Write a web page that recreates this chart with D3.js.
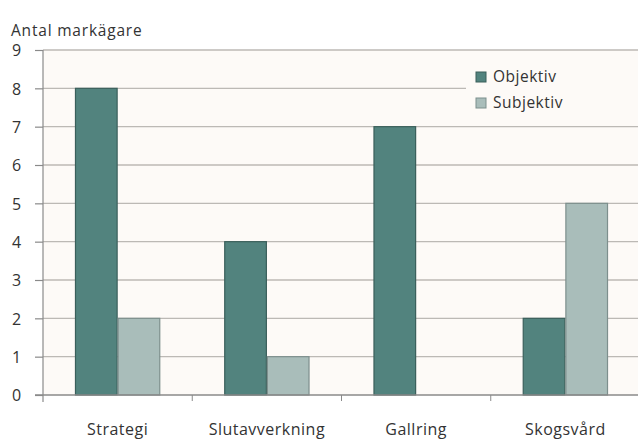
<!DOCTYPE html>
<html><head><meta charset="utf-8">
<script src="https://cdn.jsdelivr.net/npm/d3@7"></script>
<style>body{margin:0;background:#fff}svg{display:block}text{font-family:"Open Sans",sans-serif}</style>
</head><body><svg id="c" width="638" height="440"></svg>
<script>
const categories = ["Strategi","Slutavverkning","Gallring","Skogsvård"];
const seriesNames = ["Objektiv","Subjektiv"];
const objektiv = [8,4,7,2];
const subjektiv = [2,1,0,5];
const yTicks = [0,1,2,3,4,5,6,7,8,9];
const yTitle = "Antal markägare";
const colors = ["#52837e","#a9bdba"];
const strokes = ["#3a5f5b","#7d8f8d"];

const svg = d3.select("#c");
const m = {l:43, r:-2, t:50, b:45};
const W = 638, H = 440;
const x = d3.scaleBand().domain(categories).range([m.l, W - m.r]).paddingInner(0).paddingOuter(0);
const xs = d3.scaleBand().domain(seriesNames).range([0, x.bandwidth()]).paddingInner(0).paddingOuter(0.75);
const y = d3.scaleLinear().domain([0,9]).range([H - m.b, m.t]);

svg.append("rect").attr("x", m.l).attr("y", m.t).attr("width", W - m.l).attr("height", y(0)-m.t).attr("fill","#fdfaf7");

// grid
svg.append("g").selectAll("line").data(yTicks.filter(d=>d>0)).join("line")
  .attr("x1", m.l).attr("x2", W).attr("y1", d=>y(d)).attr("y2", d=>y(d))
  .attr("stroke","#bcb9b5").attr("stroke-width",1.3);

// legend background
svg.append("rect").attr("x",466).attr("y",62).attr("width",172).attr("height",54).attr("fill","#fdfaf7");

const data = [objektiv, subjektiv];
seriesNames.forEach((s,i)=>{
  svg.append("g").selectAll("rect").data(categories).join("rect")
    .attr("x", c=>x(c)+xs(s)+0.5).attr("width", xs.bandwidth()-1)
    .attr("y", (c,j)=>y(data[i][j])).attr("height",(c,j)=>y(0)-y(data[i][j]))
    .attr("fill", colors[i]).attr("stroke", strokes[i]).attr("stroke-width",1.2)
    .attr("display",(c,j)=>data[i][j]>0?null:"none");
});

// y axis
const ya = svg.append("g").attr("transform",`translate(${m.l},0)`)
  .call(d3.axisLeft(y).tickValues(yTicks).tickSize(8).tickPadding(10).tickFormat(d3.format("d")));
ya.select(".domain").attr("stroke","#8a8a8a").attr("stroke-width",1.2).attr("d",`M0,${y(9)}V${y(0)+7}`);
ya.selectAll(".tick line").attr("stroke","#8a8a8a").attr("stroke-width",1.2);
ya.selectAll(".tick text").attr("font-size",16).attr("fill","#333").attr("x",-31).attr("text-anchor","start").attr("dy","0.36em");

// x axis
const xa = svg.append("g").attr("transform",`translate(0,${y(0)})`);
xa.append("line").attr("x1",m.l-8).attr("x2",W).attr("y1",0).attr("y2",0).attr("stroke","#8a8a8a").attr("stroke-width",1.4);
xa.selectAll(".tk").data(categories.slice(1)).join("line").attr("class","tk")
  .attr("x1",c=>x(c)).attr("x2",c=>x(c)).attr("y1",0).attr("y2",6).attr("stroke","#8a8a8a").attr("stroke-width",1);
xa.selectAll("text").data(categories).join("text")
  .attr("x",c=>x(c)+x.bandwidth()/2).attr("y",39.5).attr("text-anchor","middle")
  .attr("font-size",16).attr("letter-spacing",0.5).attr("fill","#333").text(c=>c);

// title
svg.append("text").attr("x",11).attr("y",36).attr("font-size",15.5).attr("letter-spacing",0.8).attr("fill","#333").text(yTitle);

// legend
seriesNames.forEach((s,i)=>{
  const g = svg.append("g").attr("transform",`translate(476,${77+i*26})`);
  g.append("rect").attr("x",0).attr("y",-5).attr("width",10).attr("height",10).attr("fill",colors[i]).attr("stroke",strokes[i]);
  g.append("text").attr("x",17).attr("y",5).attr("font-size",15.5).attr("letter-spacing",0.5).attr("fill","#333").text(s);
});
</script></body></html>
